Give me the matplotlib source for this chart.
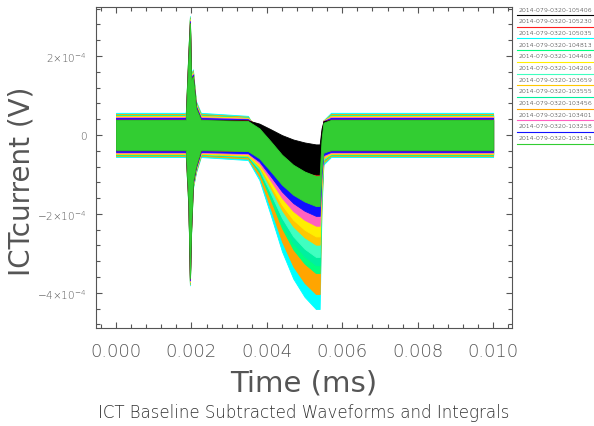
import numpy as np
import matplotlib
matplotlib.use('Agg')
import matplotlib.pyplot as plt
from matplotlib.lines import Line2D
from matplotlib.ticker import MultipleLocator, FixedLocator, FixedFormatter

# time axis points where the waveform envelope was read (ms)
t = [0.0000, 0.00185, 0.00192, 0.00196, 0.00199, 0.00204, 0.00212, 0.00225,
     0.0035, 0.0038, 0.0041, 0.0044, 0.0047, 0.0050, 0.0053, 0.0054,
     0.00545, 0.0055, 0.0057, 0.0100]
# normalized dip shape (0 = baseline, 1 = full dip)
dip_shape = [0, 0, 0, 0, 0, 0, 0, 0,
             0.02, 0.15, 0.38, 0.62, 0.80, 0.92, 1.0, 1.0,
             0.35, 0.05, 0, 0]
# ICT kick at ~0.002 ms, extra upper / lower excursion (units of 1e-4 V)
spike_up = [0, 0, 1.6, 2.45, 1.0, 1.1, 0.3, 0,
            0, 0, 0, 0, 0, 0, 0, 0, 0, 0, 0, 0]
spike_dn = [0, 0, 1.3, 3.25, 2.0, 0.8, 0.4, 0,
            0, 0, 0, 0, 0, 0, 0, 0, 0, 0, 0, 0]

runs = ['2014-079-0320-105406', '2014-079-0320-105230', '2014-079-0320-105035',
        '2014-079-0320-104813', '2014-079-0320-104408', '2014-079-0320-104206',
        '2014-079-0320-103659', '2014-079-0320-103555', '2014-079-0320-103456',
        '2014-079-0320-103401', '2014-079-0320-103258', '2014-079-0320-103143']
colors = ['black', '#ff2020', '#00ffff', '#00ff80', '#ffee00', '#40ffc0',
          '#ffc800', '#00f0a0', '#ffa500', '#ff60c0', '#1010ff', '#32cd32']
# depth of the dip (1e-4 V) and noise half-width (1e-4 V) per run
depth = [0.62, 0.85, 3.85, 3.0, 2.1, 2.6, 2.3, 2.8, 3.5, 1.85, 1.62, 1.42]
noise = [0.38, 0.39, 0.56, 0.5, 0.47, 0.49, 0.48, 0.5, 0.53, 0.45, 0.43, 0.38]

gray = '#555555'
plt.rcParams['font.family'] = ['DejaVu Sans']
plt.rcParams['font.weight'] = 'light'
plt.rcParams['mathtext.default'] = 'regular'

fig = plt.figure(figsize=(5.94, 4.27), dpi=100)
ax = fig.add_axes([96 / 594, 98 / 427, 416 / 594, 321 / 427])

t = np.array(t)
shape = np.array(dip_shape)
up = np.array(spike_up)
dn = np.array(spike_dn)

# deepest runs underneath, last run (green) on top
order = sorted(range(len(runs) - 1), key=lambda i: -depth[i]) + [len(runs) - 1]
for i in order:
    mean = -depth[i] * shape
    ax.fill_between(t, (mean - noise[i] - dn) * 1e-4, (mean + noise[i] + up) * 1e-4,
                    color=colors[i], lw=0.6, edgecolor=colors[i])

ax.set_xlim(-0.00053, 0.0105)
ax.set_ylim(-4.89e-4, 3.24e-4)

xticks = [0.000, 0.002, 0.004, 0.006, 0.008, 0.010]
xtick_labels = ['0.000', '0.002', '0.004', '0.006', '0.008', '0.010']
yticks = [-4e-4, -2e-4, 0, 2e-4]
ytick_labels = [r'$-4{\times}10^{-4}$', r'$-2{\times}10^{-4}$', '0', r'$2{\times}10^{-4}$']

ax.xaxis.set_major_locator(FixedLocator(xticks))
ax.xaxis.set_major_formatter(FixedFormatter(xtick_labels))
ax.xaxis.set_minor_locator(MultipleLocator(0.0004))
ax.yaxis.set_major_locator(FixedLocator(yticks))
ax.yaxis.set_major_formatter(FixedFormatter(ytick_labels))
ax.yaxis.set_minor_locator(MultipleLocator(4e-5))

ax.tick_params(which='both', direction='in', top=True, right=True, color=gray, width=0.8)
ax.tick_params(which='major', length=4)
ax.tick_params(which='minor', length=3)
ax.tick_params(axis='x', labelsize=13, labelcolor=gray, pad=10)
ax.tick_params(axis='y', labelsize=7.5, labelcolor=gray, pad=7)
for s in ax.spines.values():
    s.set_color(gray)
    s.set_linewidth(0.8)

ax.set_xlabel('Time (ms)', fontsize=21, color=gray, labelpad=6)
ax.set_ylabel('ICTcurrent (V)', fontsize=20, color=gray, va='center')
ax.yaxis.set_label_coords(-75 / 416, 0.46)
fig.text(304 / 594, 1 - 413 / 427, 'ICT Baseline Subtracted Waveforms and Integrals',
         ha='center', va='center', fontsize=12, color='#303030')

# legend: name with a coloured line underneath
for k, name in enumerate(runs):
    y = 1 - (10 + 11.7 * k) / 427
    fig.text(519 / 594, y, name, fontsize=4.5, color='black', va='center', ha='left')
    yl = y - 6 / 427
    fig.add_artist(Line2D([517 / 594, 1.0], [yl, yl], color=colors[k], lw=0.8,
                          transform=fig.transFigure))

fig.savefig('out.png', dpi=100)
